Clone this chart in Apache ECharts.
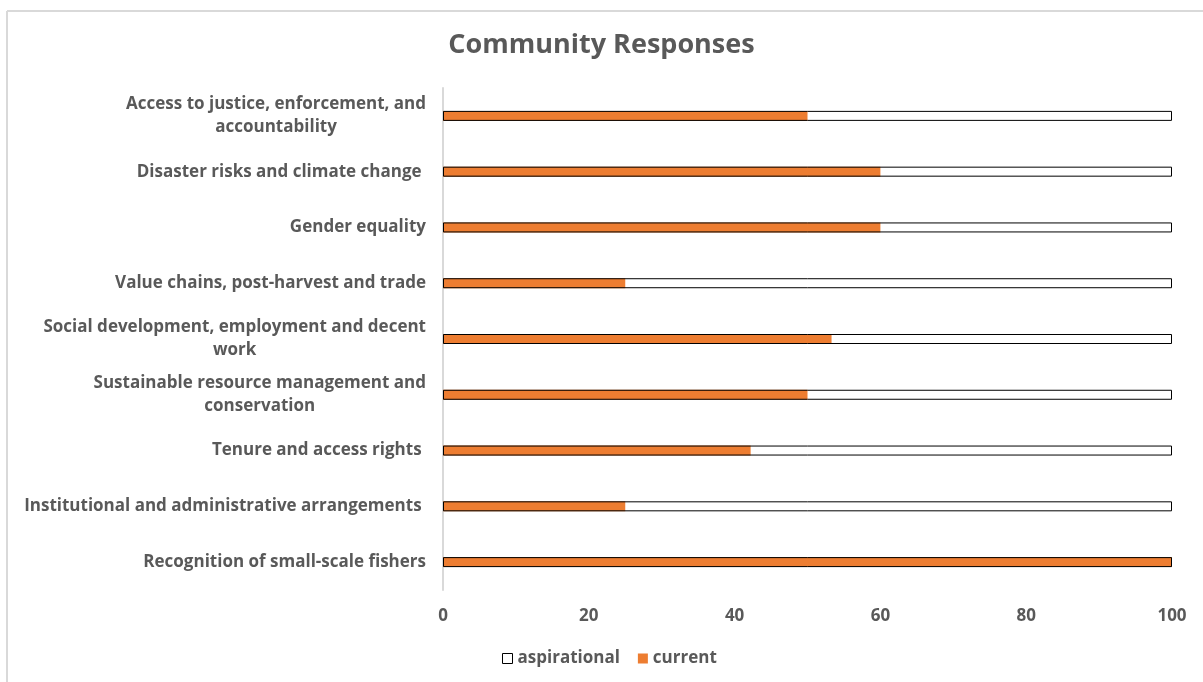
<!DOCTYPE html>
<html>
<head>
<meta charset="utf-8">
<script src="https://cdn.jsdelivr.net/npm/echarts@6/dist/echarts.min.js"></script>
<style>
html,body{margin:0;padding:0;background:#fff;}
#chart{width:1203px;height:682px;}
</style>
</head>
<body>
<div id="chart"></div>
<script>
var categories = [
  "Recognition of small-scale fishers",
  "Institutional and administrative arrangements ",
  "Tenure and access rights ",
  "Sustainable resource management and\nconservation",
  "Social development, employment and decent\nwork",
  "Value chains, post-harvest and trade",
  "Gender equality",
  "Disaster risks and climate change ",
  "Access to justice, enforcement, and\naccountability"
];
var aspirational = [100, 100, 100, 100, 100, 100, 100, 100, 100];
var current = [100, 25, 42.2, 50, 53.3, 25, 60, 60, 50];
var xTicks = [0, 20, 40, 60, 80, 100];

var FONT = "'Open Sans', 'Noto Sans', sans-serif";
var GREY = '#595959';

var chart = echarts.init(document.getElementById('chart'), null, {renderer: 'canvas'});
chart.setOption({
  animation: false,
  backgroundColor: '#fff',
  title: {
    text: 'Community Responses',
    left: 'center',
    top: 27,
    textStyle: {fontFamily: FONT, fontSize: 27, fontWeight: 'bold', color: GREY}
  },
  graphic: [
    {type: 'line', shape: {x1: 7, y1: 11, x2: 1203, y2: 11}, style: {stroke: '#d9d9d9', lineWidth: 2}, silent: true},
    {type: 'line', shape: {x1: 7, y1: 11, x2: 7, y2: 682}, style: {stroke: '#d9d9d9', lineWidth: 2}, silent: true}
  ],
  legend: {
    data: [
      {name: 'aspirational', itemStyle: {color: '#fff', borderColor: '#000', borderWidth: 1}},
      {name: 'current', itemStyle: {color: '#ED7D31'}}
    ],
    bottom: 10,
    left: 497,
    itemWidth: 10,
    itemHeight: 10,
    itemGap: 18,
    icon: 'rect',
    textStyle: {fontFamily: FONT, fontSize: 17, fontWeight: 'bold', color: GREY}
  },
  grid: {left: 443, right: 31, top: 88, bottom: 92, containLabel: false},
  xAxis: {
    type: 'value',
    min: 0, max: 100, interval: 20,
    axisLine: {show: false},
    axisTick: {show: false},
    splitLine: {show: false},
    axisLabel: {
      margin: 18,
      fontFamily: FONT, fontSize: 17, fontWeight: 'bold', color: GREY,
      formatter: function (v) { return xTicks.indexOf(v) >= 0 ? String(v) : ''; }
    }
  },
  yAxis: {
    type: 'category',
    data: categories,
    axisLine: {show: true, lineStyle: {color: '#d9d9d9', width: 2}},
    axisTick: {show: false},
    axisLabel: {
      margin: 17,
      align: 'right',
      lineHeight: 23,
      fontFamily: FONT, fontSize: 17, fontWeight: 'bold', color: GREY,
      formatter: function (v) {
        return v.split('\n').map(function (s) { return '{c|' + s + '}'; }).join('\n');
      },
      rich: {c: {align: 'center', fontFamily: FONT, fontSize: 17, fontWeight: 'bold', color: GREY, lineHeight: 23}}
    }
  },
  series: [
    {
      name: 'current',
      type: 'bar',
      data: current,
      barWidth: 10,
      z: 2,
      itemStyle: {color: '#ED7D31'}
    },
    {
      name: 'aspirational',
      type: 'bar',
      data: aspirational,
      barWidth: 10,
      barGap: '-100%',
      z: 3,
      itemStyle: {color: 'rgba(0,0,0,0)', borderColor: '#000', borderWidth: 1}
    }
  ]
});
</script>
</body>
</html>
